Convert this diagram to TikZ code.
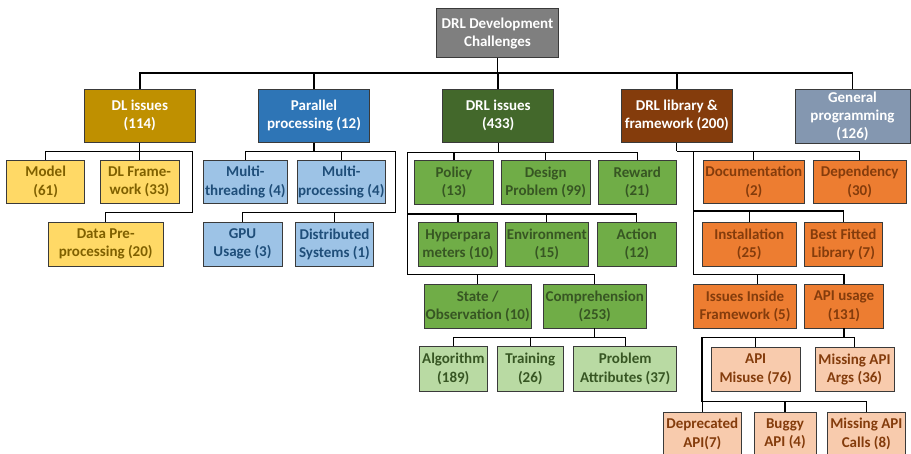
\documentclass[tikz,border=0pt]{standalone}
\usepackage{fontspec}
\setmainfont{Carlito}

\definecolor{rootgray}{HTML}{7F7F7F}
\definecolor{cellborder}{HTML}{3A3A3A}
\definecolor{dlgold}{HTML}{BF9000}
\definecolor{dllight}{HTML}{FFD966}
\definecolor{dltext}{HTML}{7F6000}
\definecolor{parblue}{HTML}{2E75B6}
\definecolor{parlight}{HTML}{9DC3E6}
\definecolor{partext}{HTML}{1F4E79}
\definecolor{drldark}{RGB}{67,104,43}
\definecolor{drlgreen}{HTML}{70AD47}
\definecolor{drlpale}{RGB}{185,218,163}
\definecolor{drltext}{HTML}{375623}
\definecolor{libbrown}{HTML}{843C0C}
\definecolor{liborange}{HTML}{ED7D31}
\definecolor{libpale}{HTML}{F8CBAD}
\definecolor{genblue}{HTML}{8497B0}

\tikzset{
  cell/.style={draw=cellborder, line width=0.9pt, inner sep=0pt, align=center,
    font=\fontsize{15}{18.3}\selectfont\bfseries},
  rootcell/.style={cell, fill=rootgray, text=white},
  dlhead/.style={cell, fill=dlgold, text=white},
  parhead/.style={cell, fill=parblue, text=white},
  drlhead/.style={cell, fill=drldark, text=white},
  libhead/.style={cell, fill=libbrown, text=white},
  genhead/.style={cell, fill=genblue, text=white},
  dlsub/.style={cell, fill=dllight, text=dltext},
  parsub/.style={cell, fill=parlight, text=partext},
  drlsub/.style={cell, fill=drlgreen, text=drltext},
  drlsubb/.style={cell, fill=drlpale, text=drltext},
  libsub/.style={cell, fill=liborange, text=libbrown},
  libsubb/.style={cell, fill=libpale, text=libbrown},
  sz/.style 2 args={minimum width=#1pt, minimum height=#2pt},
  link/.style={draw=black, line width=1.1pt},
  toplink/.style={draw=black, line width=1.8pt}
}

\begin{document}
\begin{tikzpicture}[x=1pt,y=-1pt]
\useasboundingbox (0,0) rectangle (911,454);

% root and first level
\node[rootcell, sz={121.6}{49.3}] (root) at (497.5,33.3) {DRL Development\\Challenges};
\node[dlhead, sz={110.3}{53}] (dl) at (139.8,115.7) {DL issues\\(114)};
\node[parhead, sz={111.4}{53}] (par) at (314,115.7) {Parallel\\processing (12)};
\node[drlhead, sz={111}{53}] (drl) at (498.2,115.7) {DRL issues\\(433)};
\node[libhead, sz={111}{53}] (lib) at (676.8,115.7) {DRL library \&\\framework (200)};
\node[genhead, sz={115}{54}] (gen) at (852.5,116.3) {General\\programming\\(126)};

% DL issues
\node[dlsub, sz={78}{43.5}] (model) at (45.7,182) {Model\\(61)};
\node[dlsub, sz={79}{43.5}] (dlfw) at (139.5,182) {DL Frame-\\work (33)};
\node[dlsub, sz={114.7}{44}] (data) at (105.7,244.2) {Data Pre-\\processing (20)};

% parallel processing
\node[parsub, sz={84}{43.5}] (mthr) at (245.3,182) {Multi-\\threading (4)};
\node[parsub, sz={88.7}{43.5}] (mproc) at (341.3,182) {Multi-\\processing (4)};
\node[parsub, sz={79}{44}] (gpu) at (242.5,244.2) {GPU\\Usage (3)};
\node[parsub, sz={78.4}{44}] (dist) at (334.5,244.2) {Distributed\\Systems (1)};

% DRL issues
\node[drlsub, sz={79.4}{43.5}] (policy) at (454,182.5) {Policy\\(13)};
\node[drlsub, sz={88.7}{43.5}] (design) at (545.7,182.5) {Design\\Problem (99)};
\node[drlsub, sz={78.3}{43.5}] (reward) at (637.2,182.5) {Reward\\(21)};
\node[drlsub, sz={79.4}{44}] (hyper) at (458,244.6) {Hyperpara\\meters (10)};
\node[drlsub, sz={83}{44}] (env) at (546.8,244.6) {Environment\\(15)};
\node[drlsub, sz={79}{44}] (action) at (636.8,244.6) {Action\\(12)};
\node[drlsub, sz={107.3}{43.5}] (state) at (477.7,306.3) {State /\\Observation (10)};
\node[drlsub, sz={103}{43.5}] (compr) at (594.8,306.3) {Comprehension\\(253)};
\node[drlsubb, sz={68}{44.5}] (algo) at (453.3,369) {Algorithm\\(189)};
\node[drlsubb, sz={66}{44.5}] (train) at (530.3,369) {Training\\(26)};
\node[drlsubb, sz={103}{44.5}] (prob) at (625.2,369) {Problem\\Attributes (37)};

% DRL library & framework
\node[libsub, sz={101}{43.5}] (doc) at (753.8,182) {Documentation\\(2)};
\node[libsub, sz={92.7}{43.5}] (dep) at (859.7,182) {Dependency\\(30)};
\node[libsub, sz={93.7}{44}] (inst) at (749.2,244.6) {Installation\\(25)};
\node[libsub, sz={78.7}{44}] (best) at (843.3,244.6) {Best Fitted\\Library (7)};
\node[libsub, sz={103.4}{43.5}] (issues) at (745,306.3) {Issues Inside\\Framework (5)};
\node[libsub, sz={78.6}{43.5}] (apiu) at (844,306.3) {API usage\\(131)};
\node[libsubb, sz={88.7}{44.5}] (misuse) at (755.7,369.3) {API\\Misuse (76)};
\node[libsubb, sz={79}{44.5}] (args) at (854.5,369.3) {Missing API\\Args (36)};
\node[libsubb, sz={78}{44}] (depr) at (702.3,434) {Deprecated\\API(7)};
\node[libsubb, sz={62}{44}] (buggy) at (785,434) {Buggy\\API (4)};
\node[libsubb, sz={78}{44}] (calls) at (866.3,434) {Missing API\\Calls (8)};

% top bus
\draw[toplink] (root.south) -- ++(0,14.7) coordinate (top);
\foreach \n in {dl,par,drl,lib,gen}
  \draw[toplink] (top) -| (\n.north);

% DL issues
\draw[link] (dl.south) -- ++(0,9.3) coordinate (dlb);
\draw[link] (dlb) -| (model.north);
\draw[link] (dlb) -| (dlfw.north);
\draw[link] (dlb) -| ++(53,61) -| (data.north);

% parallel processing
\draw[link] (par.south) -- ++(0,8.7) coordinate (parb);
\draw[link] (parb) -| (mthr.north);
\draw[link] (parb) -| (mproc.north);
\draw[link] (parb) -| ++(81.7,61) coordinate (parc) -| (gpu.north);
\draw[link] (parc) -| (dist.north);

% DRL issues
\draw[link] (drl.south) -- ++(0,10) coordinate (drlb);
\foreach \n in {policy,design,reward}
  \draw[link] (drlb) -| (\n.north);
\path (drlb) ++(-91,61.4) coordinate (drlc);
\foreach \n in {hyper,env,action}
  \draw[link] (drlc) -| (\n.north);
\draw[link] (drlb) -| ++(-91,121.7) coordinate (drld) -| (compr.north);
\draw[link] (drld) -| (state.north);
\draw[link] (compr.south) -- ++(0,9) coordinate (comb);
\foreach \n in {algo,train,prob}
  \draw[link] (comb) -| (\n.north);

% DRL library & framework
\draw[link] (lib.south) -- ++(0,8.7) coordinate (libb);
\draw[link] (libb) -| (doc.north);
\draw[link] (libb) -| (dep.north);
\path (libb) ++(16.5,59.7) coordinate (libc);
\draw[link] (libc) -| (inst.north);
\draw[link] (libc) -| (best.north);
\draw[link] (libb) -| ++(16.5,123) coordinate (libd) -| (apiu.north);
\draw[link] (libd) -| ([xshift=12.3pt]issues.north);
\draw[link] (apiu.south) -- ++(0,9) coordinate (apib);
\draw[link] (apib) -| (misuse.north);
\draw[link] (apib) -| (args.north);
\draw[link] (apib) -| ++(-142,63.7) coordinate (apic) -| (calls.north);
\draw[link] (apic) -| (buggy.north);
\draw[link] (apic) -| (depr.north);
\end{tikzpicture}
\end{document}
